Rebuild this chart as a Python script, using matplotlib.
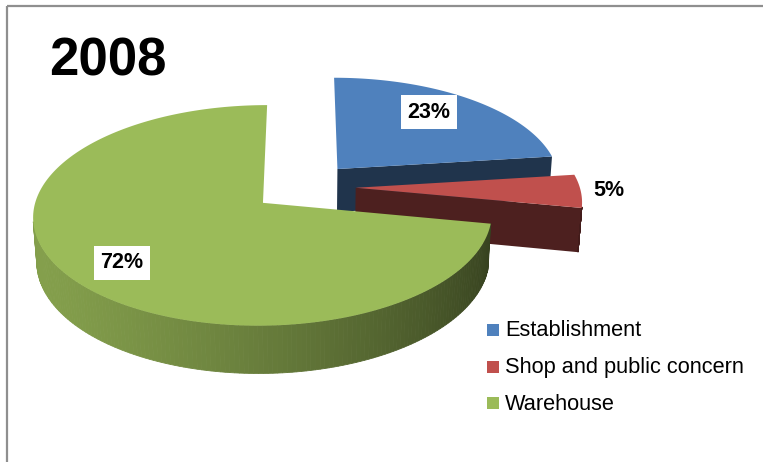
import numpy as np
import matplotlib.pyplot as plt
from matplotlib.patches import Polygon, Rectangle
from matplotlib.colors import to_rgb

plt.rcParams['font.family'] = ['Liberation Sans', 'DejaVu Sans']

# data
title = '2008'
categories = ['Establishment', 'Shop and public concern', 'Warehouse']
shares = [23, 5, 72]
colors = ['#4F81BD', '#C0504D', '#9BBB59']

# label anchors (pixels) and whether a label gets a white box
label_pos = [(429, 112), (609, 190), (122, 263)]
label_box = [True, False, True]

# 3d pie geometry, in pixel units
XC, YC = 303.7, 187.0
RADIUS = 224
THICK = 50
EXPLODE = 52
SIN_E = 0.47
COS_E = np.sqrt(1 - SIN_E ** 2)
DIST = 1766
CAM = np.array([0.0, -DIST * COS_E, DIST * SIN_E])
VIEW = np.array([0.0, -COS_E, SIN_E])


def project(u, v, z):
    depth = v * COS_E - z * SIN_E
    s = DIST / (DIST + depth)
    return XC + u * s, YC - (v * SIN_E + z * COS_E) * s


def shade(color, f):
    r, g, b = to_rgb(color)
    return (r * f, g * f, b * f)


def faces_camera(point, normal):
    return np.dot(normal, CAM - point) > 0


fig = plt.figure(figsize=(7.63, 4.62), dpi=100)
ax = fig.add_axes([0, 0, 1, 1])
ax.set_xlim(0, 763)
ax.set_ylim(462, 0)
ax.axis('off')

total = sum(shares)
cum = 0
for val, col in zip(shares, colors):
    t1 = np.radians(90 - cum / total * 360)
    cum += val
    t2 = np.radians(90 - cum / total * 360)
    mid = (t1 + t2) / 2
    cu, cv = EXPLODE * np.cos(mid), EXPLODE * np.sin(mid)
    th = np.linspace(t1, t2, 240)

    # radial cut faces (only the ones turned towards the front)
    for t, nt in ((t1, t1 + np.pi / 2), (t2, t2 - np.pi / 2)):
        normal = np.array([np.cos(nt), np.sin(nt), 0])
        if np.dot(normal, VIEW) > 1e-6:
            eu, ev = cu + RADIUS * np.cos(t), cv + RADIUS * np.sin(t)
            pts = [project(cu, cv, 0), project(eu, ev, 0),
                   project(eu, ev, -THICK), project(cu, cv, -THICK)]
            ax.add_patch(Polygon(pts, closed=True, fc=shade(col, 0.4), ec='none'))

    # outer curved side
    for a, b in zip(th[:-1], th[1:]):
        tm = (a + b) / 2
        p = np.array([cu + RADIUS * np.cos(tm), cv + RADIUS * np.sin(tm), -THICK / 2])
        n = np.array([np.cos(tm), np.sin(tm), 0])
        if faces_camera(p, n):
            ua, va = cu + RADIUS * np.cos(a), cv + RADIUS * np.sin(a)
            ub, vb = cu + RADIUS * np.cos(b), cv + RADIUS * np.sin(b)
            f = 0.58 + 0.27 * np.cos(tm - np.radians(200))
            c = shade(col, f)
            quad = [project(ua, va, 0), project(ub, vb, 0),
                    project(ub, vb, -THICK), project(ua, va, -THICK)]
            ax.add_patch(Polygon(quad, closed=True, fc=c, ec=c, lw=0.6))

    # top face
    top = [project(cu, cv, 0)] + [project(cu + RADIUS * np.cos(t), cv + RADIUS * np.sin(t), 0) for t in th]
    ax.add_patch(Polygon(top, closed=True, fc=col, ec='none'))

# percentage labels
for val, (x, y), boxed in zip(shares, label_pos, label_box):
    bbox = dict(boxstyle='square,pad=0.32', fc='white', ec='none') if boxed else None
    ax.text(x, y, f'{val}%', fontsize=15.5, fontweight='bold', ha='center', va='center', bbox=bbox)

# title
ax.text(49, 75, title, fontsize=38, fontweight='bold', ha='left', va='baseline')

# legend
for i, (name, col) in enumerate(zip(categories, colors)):
    y = 330 + i * 36.5
    ax.add_patch(Rectangle((487, y - 6), 12, 12, fc=col, ec='none'))
    ax.text(505, y + 1, name, fontsize=15.7, ha='left', va='center')

# frame
ax.plot([6.5, 6.5], [462, 5.5], color='#8f8f8f', lw=1.6, solid_capstyle='butt')
ax.plot([6.5, 763], [5.5, 5.5], color='#8f8f8f', lw=1.6, solid_capstyle='butt')

fig.savefig('out.png', dpi=100)
